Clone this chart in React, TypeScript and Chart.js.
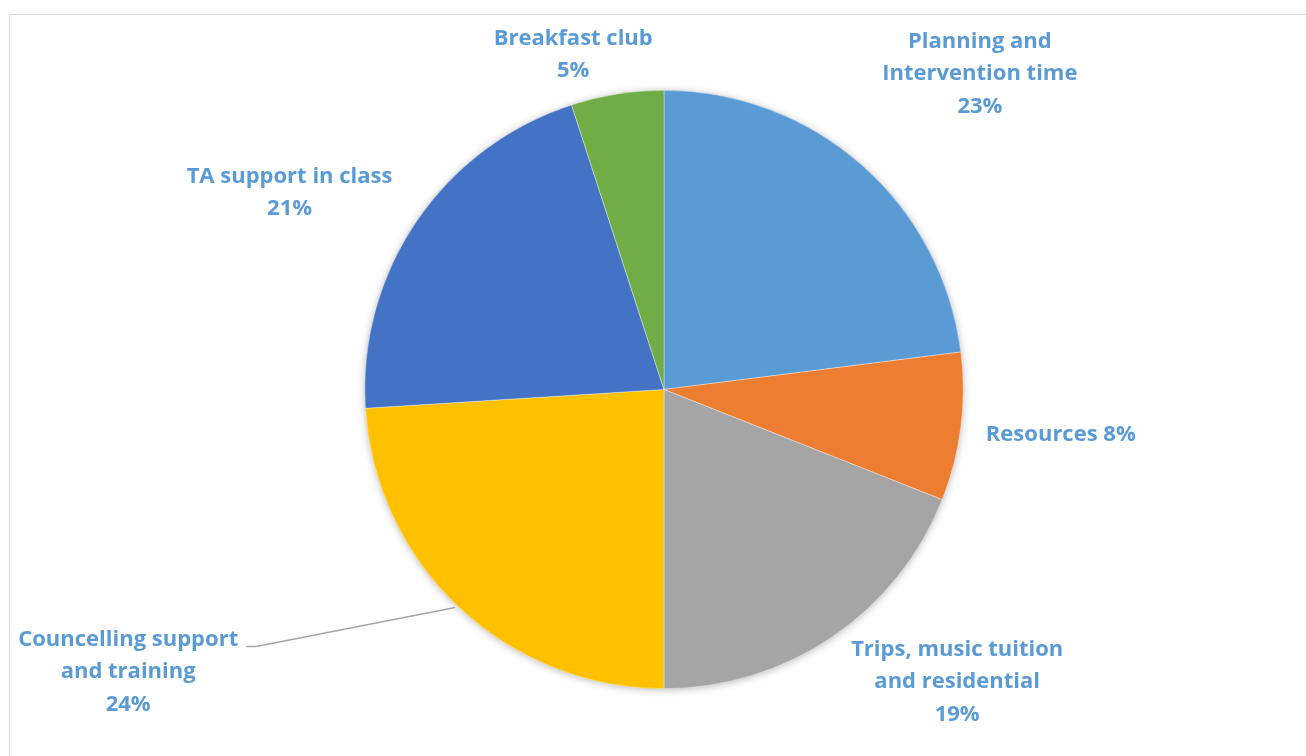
import React, { useEffect, useRef } from "react";
import { Chart, registerables } from "chart.js";

Chart.register(...registerables);

const categories: string[][] = [
  ["Planning and", "Intervention time"],
  ["Resources"],
  ["Trips, music tuition", "and residential"],
  ["Councelling support", "and training"],
  ["TA support in class"],
  ["Breakfast club"],
];
const values: number[] = [23, 8, 19, 24, 21, 5];
const percentLabels: string[] = ["23%", "8%", "19%", "24%", "21%", "5%"];
const sliceColors: string[] = ["#5B9BD5", "#ED7D31", "#A5A5A5", "#FFC000", "#4472C4", "#70AD47"];

// label placement relative to outer edge point at mid-angle (dx, dy), inline = percent on same line
const labelPlacement = [
  { dx: 118, dy: -91, inline: false, align: "center", leader: false },
  { dx: 25, dy: 8, inline: true, align: "left", leader: false },
  { dx: 125, dy: 45, inline: false, align: "center", leader: false },
  { dx: -331, dy: 64.5, inline: false, align: "center", leader: true },
  { dx: -127, dy: -28.5, inline: false, align: "center", leader: false },
  { dx: -44, dy: -39, inline: false, align: "center", leader: false },
];

const FONT = "bold 22px 'Open Sans', sans-serif";
const LINE_H = 32.5;
const LABEL_COLOR = "#5B9BD5";

const shadowPlugin = {
  id: "pieShadow",
  beforeDatasetsDraw(chart: any) {
    const meta = chart.getDatasetMeta(0);
    const arc = meta.data[0];
    if (!arc) return;
    const { x, y, outerRadius } = arc.getProps(["x", "y", "outerRadius"], true);
    const ctx = chart.ctx;
    ctx.save();
    ctx.shadowColor = "rgba(0,0,0,0.35)";
    ctx.shadowBlur = 9;
    ctx.shadowOffsetX = 0;
    ctx.shadowOffsetY = 1;
    ctx.fillStyle = "#ffffff";
    ctx.beginPath();
    ctx.arc(x, y, outerRadius - 1, 0, Math.PI * 2);
    ctx.fill();
    ctx.restore();
  },
};

const labelPlugin = {
  id: "pieLabels",
  afterDatasetsDraw(chart: any) {
    const ctx = chart.ctx;
    const meta = chart.getDatasetMeta(0);
    ctx.save();
    ctx.font = FONT;
    ctx.fillStyle = LABEL_COLOR;
    ctx.textBaseline = "middle";
    meta.data.forEach((arc: any, i: number) => {
      const { x, y, startAngle, endAngle, outerRadius } = arc.getProps(
        ["x", "y", "startAngle", "endAngle", "outerRadius"],
        true
      );
      const mid = (startAngle + endAngle) / 2;
      const ex = x + Math.cos(mid) * outerRadius;
      const ey = y + Math.sin(mid) * outerRadius;
      const p = labelPlacement[i];
      const lx = ex + p.dx;
      const ly = ey + p.dy;
      let lines: string[];
      if (p.inline) {
        lines = [categories[i].join(" ") + " " + percentLabels[i]];
      } else {
        lines = [...categories[i], percentLabels[i]];
      }
      const top = ly - ((lines.length - 1) * LINE_H) / 2;
      ctx.textAlign = p.align;
      lines.forEach((ln, k) => {
        ctx.fillText(ln, lx, top + k * LINE_H);
      });
      if (p.leader) {
        const w = ctx.measureText(lines[0]).width;
        const rx = lx + w / 2 + 8;
        const ry = top + 7;
        ctx.save();
        ctx.strokeStyle = "#A5A5A5";
        ctx.lineWidth = 1.5;
        ctx.beginPath();
        ctx.moveTo(rx, ry);
        ctx.lineTo(rx + 10, ry);
        ctx.lineTo(ex - 4, ey);
        ctx.stroke();
        ctx.restore();
      }
    });
    ctx.restore();
  },
};

export default function App() {
  const ref = useRef<HTMLCanvasElement | null>(null);
  useEffect(() => {
    if (!ref.current) return;
    const chart = new Chart(ref.current, {
      type: "pie",
      data: {
        labels: categories.map((c) => c.join(" ")),
        datasets: [
          {
            data: values,
            backgroundColor: sliceColors,
            borderColor: "rgba(255,255,255,0.6)",
            borderWidth: 0.6,
          },
        ],
      },
      options: {
        animation: false,
        responsive: false,
        devicePixelRatio: 1,
        layout: { padding: { top: 90, bottom: 67, left: 22, right: 0 } },
        plugins: {
          legend: { display: false },
          tooltip: { enabled: false },
        },
      },
      plugins: [shadowPlugin, labelPlugin],
    });
    return () => chart.destroy();
  }, []);
  return (
    <div style={{ position: "fixed", left: 0, top: 0, width: 1306, height: 756, background: "#fff" }}>
      <div
        style={{
          position: "absolute",
          left: 9,
          top: 14,
          width: 1306,
          height: 760,
          border: "1.5px solid #D9D9D9",
          boxSizing: "border-box",
        }}
      />
      <canvas ref={ref} width={1306} height={756} style={{ position: "absolute", left: 0, top: 0 }} />
    </div>
  );
}
